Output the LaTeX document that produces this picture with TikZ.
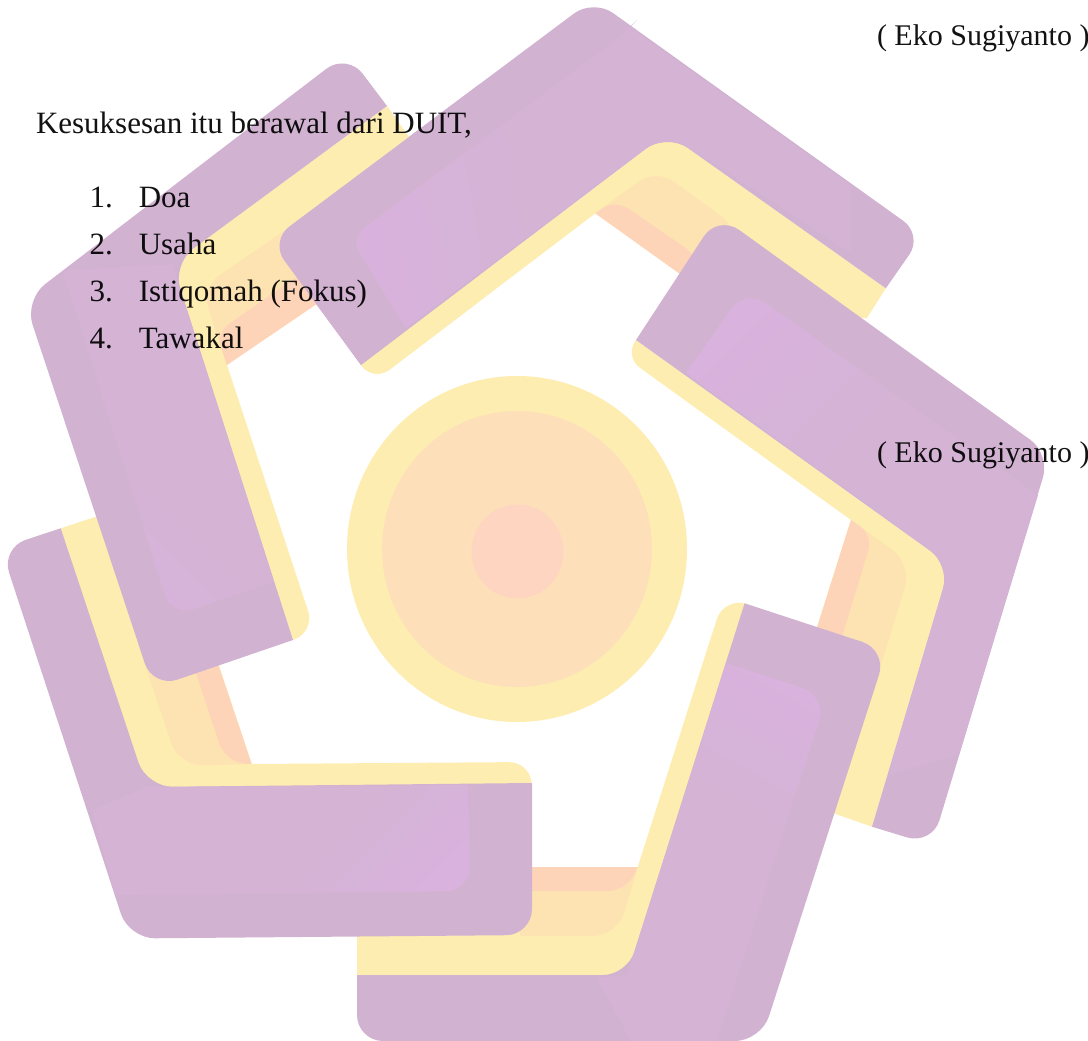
\documentclass[tikz,border=0pt]{standalone}
\usepackage{fontspec}
\setmainfont{Liberation Serif}
\definecolor{wmyellow}{HTML}{FEEDB0}
\definecolor{wmtan}{HTML}{FDE3B2}
\definecolor{wmpeach}{HTML}{FDD4B8}
\definecolor{wmrim}{HTML}{D1B2D0}
\definecolor{wmmain}{HTML}{D4B3D5}
\definecolor{wmlight}{HTML}{D9B2DD}
\definecolor{wmdisc}{HTML}{FDDFBA}
\definecolor{wmcore}{HTML}{FED5C0}
\pgfdeclareverticalshading{glowshade}{100bp}{color(0bp)=(wmmain); color(58bp)=(wmmain); color(78bp)=(wmlight); color(100bp)=(wmlight)}
\tikzset{
  ylw/.style={fill=wmyellow},
  tanlayer/.style={fill=wmtan},
  pch/.style={fill=wmpeach},
  rim/.style={fill=wmrim},
  glow/.style={shading=glowshade,shading angle=#1},
  rc/.style={rounded corners=#1},
  txt/.style={anchor=base west,inner sep=0pt,outer sep=0pt,text opacity=0.93,font=\fontsize{31pt}{33pt}\selectfont},
  sigtxt/.style={txt,font=\fontsize{30pt}{33pt}\selectfont}
}
\newcommand{\ArmTop}{%
  \path[ylw] (361,365) [rc=20pt] -- (373.5,381.8) [sharp corners] -- (595.4,213.3) -- (720,302) -- (866.7,318.3) -- (885.8,288.3) -- (666.6,133) -- cycle;
  \path[tanlayer] (595.4,213.3) [rc=22pt] -- (656.3,168.6) -- (740,230) [sharp corners] -- (700,288) -- cycle;
  \path[pch] (595.4,213.3) [rc=16pt] -- (615.3,199.4) -- (700,258) [sharp corners] -- (680,274) -- cycle;
  \path[rim] (361,365) [rc=24pt] -- (270,241) -- (593.4,-1) -- (923,235) [sharp corners] -- (885.8,288.3) [rc=26pt] -- (666.6,133) [sharp corners] -- cycle;
  \shade[glow=100] (406,328) [rc=18pt] -- (350,238) -- (625,33) [sharp corners] -- (630,27.5) -- (851,185.5) -- (851,253) [rc=26pt] -- (666.6,133) [sharp corners] -- cycle;
}
\newcommand{\ArmRight}{%
  \path[ylw] (636,340) [rc=18pt] -- (625,357) [sharp corners] -- (851,520) -- (810,650) -- (810,805) -- (872,826.7) -- (950,565) -- cycle;
  \path[tanlayer] (851,520) [rc=24pt] -- (912,564) [sharp corners] -- (870,700) -- (810,650) -- cycle;
  \path[pch] (851,520) [rc=16pt] -- (873,535) [sharp corners] -- (835,660) -- (810,650) -- cycle;
  \path[rim] (636,340) [rc=26pt] -- (718,214.7) [rc=24pt] -- (1050,454) [rc=26pt] -- (932,845) [sharp corners] -- (872,826.7) [rc=24pt] -- (950,565) [sharp corners] -- cycle;
  \shade[glow=45] (686,373) [rc=24pt] -- (745.5,289) [sharp corners] -- (1038,495) -- (959,755) -- (888,775) [rc=24pt] -- (950,565) [sharp corners] -- cycle;
}
\newcommand{\ArmBottom}{%
  \path[ylw] (357,867) -- (637.7,867) [rc=24pt] -- (724,596.5) [sharp corners] -- (744.6,603.3) -- (760,640) -- (650,1000) -- (357,1000) -- cycle;
  \path[tanlayer] (520,867) -- (638,867) [rc=24pt] -- (617,936) [sharp corners] -- (520,936) -- cycle;
  \path[pch] (520,867) -- (637,867) [rc=22pt] -- (630,891) [sharp corners] -- (520,891) -- cycle;
  \path[rim] (357,975) [rc=26pt] -- (357,1041) -- (761,1041) -- (887,650) [sharp corners] -- (744.6,603.3) [rc=24pt] -- (627,975) [sharp corners] -- cycle;
  \shade[glow=-30] (726,663) [rc=26pt] -- (827,696) [sharp corners] -- (717,1041) -- (631,1041) -- (596,977) -- (627,975) -- cycle;
}
\newcommand{\ArmLowerLeft}{%
  \path[ylw] (60.7,528.3) -- (162,495) -- (251.6,764) [rc=22pt] -- (531,762) [sharp corners] -- (532,790) -- (146,800) -- cycle;
  \path[tanlayer] (251.6,764) [rc=24pt] -- (179,766) [sharp corners] -- (140,650) -- (210,640) -- cycle;
  \path[pch] (251.6,764) [rc=20pt] -- (225.8,763) [sharp corners] -- (190,655) -- (215,655) -- cycle;
  \path[rim] (60.7,528.3) [rc=26pt] -- (1,548) -- (129,938.5) -- (532,935) [sharp corners] -- (532,783) [rc=26pt] -- (146.6,787) [sharp corners] -- cycle;
  \shade[glow=-135] (468,785) [rc=24pt] -- (470,891) [sharp corners] -- (115,895) -- (92,810) -- (146.6,787) -- cycle;
}
\newcommand{\ArmUpperLeft}{%
  \path[ylw] (387,106) -- (409,137) -- (415,230) -- (227,365) [rc=22pt] -- (315,632) [sharp corners] -- (293,640) -- (172,264) -- cycle;
  \path[tanlayer] (227,365) [rc=22pt] -- (201.5,287.5) -- (300,220) [sharp corners] -- (340,280) -- cycle;
  \path[pch] (227,365) [rc=15pt] -- (216,333) [sharp corners] -- (295,278) -- (330,295) -- cycle;
  \path[rim] (387,106) [rc=26pt] -- (347,53) -- (24.4,300) -- (153,688) [sharp corners] -- (293,640) [rc=26pt] -- (172.3,264) [sharp corners] -- cycle;
  \shade[glow=135] (62.6,270.6) -- (172.3,264) -- (274,581.7) [rc=24pt] -- (171.5,617) [sharp corners] -- cycle;
}
\begin{document}
\begin{tikzpicture}[x=1pt,y=-1pt]
  \useasboundingbox (0,0) rectangle (1088,1041);
  \fill[white] (0,0) rectangle (1088,1041);
  % central discs
  \fill[wmyellow] (517,549) ellipse [x radius=170,y radius=173];
  \fill[wmdisc] (517,549) ellipse [x radius=135,y radius=138];
  \fill[wmcore] (517.5,551.5) ellipse [x radius=46,y radius=47];
  % arms, each over the one before
  \ArmTop
  \ArmRight
  \ArmBottom
  \ArmLowerLeft
  \ArmUpperLeft
  % the ring closes: the top arm's free end lies over the upper-left arm
  \begin{scope}
    \clip (200,0) rectangle (480,420);
    \ArmTop
  \end{scope}
  % text
  \node[txt] (head) at (36,133) {Kesuksesan itu berawal dari DUIT,};
  \node[txt] (n1) at (89.5,207) {1.};
  \node[txt] (i1) at (138.8,207) {Doa};
  \node[txt] (n2) at (89.5,254) {2.};
  \node[txt] (i2) at (138.8,254) {Usaha};
  \node[txt] (n3) at (89.5,301.5) {3.};
  \node[txt] (i3) at (138.8,301.5) {Istiqomah (Fokus)};
  \node[txt] (n4) at (89.5,348) {4.};
  \node[txt] (i4) at (138.8,348) {Tawakal};
  \node[sigtxt] (sig1) at (877,46) {( Eko Sugiyanto )};
  \node[sigtxt] (sig2) at (877,462) {( Eko Sugiyanto )};
\end{tikzpicture}
\end{document}
